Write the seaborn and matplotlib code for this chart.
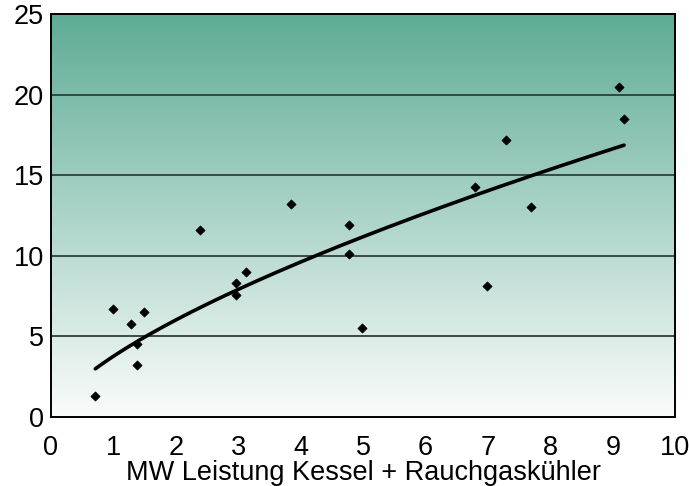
import numpy as np
import pandas as pd
import matplotlib
matplotlib.use("Agg")
import matplotlib.pyplot as plt
import seaborn as sns
from matplotlib.colors import LinearSegmentedColormap

# Data
leistung_mw = [0.71, 0.99, 1.28, 1.38, 1.38, 1.49, 2.39, 2.97, 2.97, 3.13,
               3.84, 4.78, 4.78, 4.98, 6.79, 6.98, 7.29, 7.69, 9.10, 9.18]
werte = [1.3, 6.7, 5.8, 4.5, 3.2, 6.5, 11.6, 8.3, 7.6, 9.0,
         13.2, 11.9, 10.1, 5.5, 14.3, 8.1, 17.2, 13.0, 20.5, 18.5]
x_ticks = [0, 1, 2, 3, 4, 5, 6, 7, 8, 9, 10]
y_ticks = [0, 5, 10, 15, 20, 25]
x_label = "MW Leistung Kessel + Rauchgaskühler"

df = pd.DataFrame({"x": leistung_mw, "y": werte})

# Power trendline (fit in log-log space, like a spreadsheet power trend)
b, ln_a = np.polyfit(np.log(df["x"]), np.log(df["y"]), 1)
xs = np.linspace(min(leistung_mw), max(leistung_mw), 200)
trend = pd.DataFrame({"x": xs, "y": np.exp(ln_a) * xs ** b})

sns.set_theme(style="white")
plt.rcParams["font.family"] = ["Liberation Sans", "DejaVu Sans"]
plt.rcParams["text.color"] = "black"
plt.rcParams["axes.labelcolor"] = "black"

fig = plt.figure(figsize=(6.89, 4.86), dpi=100)
ax = fig.add_axes([0.074, 0.142, 0.906, 0.829])

# vertical gradient background
cmap = LinearSegmentedColormap.from_list("g", ["#fafcfb", "#5eac96"])
grad = np.linspace(0, 1, 256).reshape(-1, 1)
ax.imshow(grad, aspect="auto", cmap=cmap, origin="lower",
          extent=[0, 10, 0, 25], zorder=0)

for yv in y_ticks[1:-1]:
    ax.axhline(yv, color="#2f3f38", lw=1.3, zorder=1)

sns.lineplot(data=trend, x="x", y="y", ax=ax, color="black", lw=2.6, zorder=3)
sns.scatterplot(data=df, x="x", y="y", ax=ax, marker="D", s=22,
                color="black", edgecolor="black", linewidth=0.5, zorder=4)

ax.set_xlim(0, 10)
ax.set_ylim(0, 25)
ax.set_xticks(x_ticks)
ax.set_yticks(y_ticks)
ax.tick_params(axis="x", direction="in", length=6, width=1.2, color="#555555",
               labelsize=19.5, pad=13, labelcolor="black")
ax.tick_params(axis="y", length=0, labelsize=19.5, pad=5, labelcolor="black")
ax.set_xlabel(x_label, fontsize=19.5, labelpad=-1, color="black")
ax.set_ylabel("")
for sp in ax.spines.values():
    sp.set_visible(True)
    sp.set_color("black")
    sp.set_linewidth(1.4)

fig.savefig("out.png", dpi=100)
